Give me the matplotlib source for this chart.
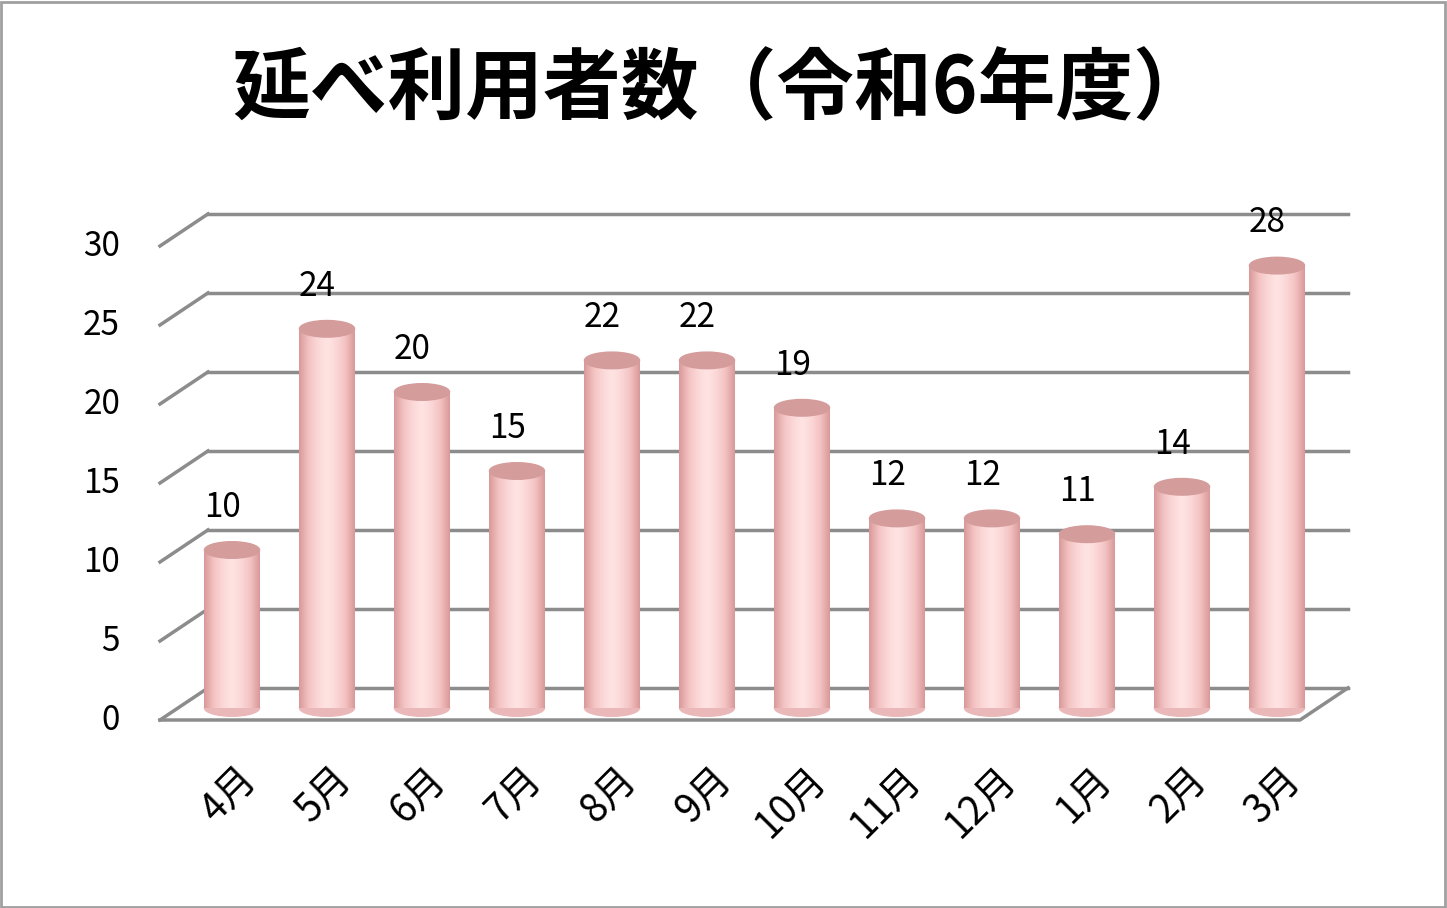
import matplotlib
matplotlib.use("Agg")
import matplotlib.pyplot as plt
import numpy as np
from matplotlib.patches import Ellipse, Rectangle

plt.rcParams["font.family"] = ["Noto Sans CJK JP", "DejaVu Sans"]

months = ["4月", "5月", "6月", "7月", "8月", "9月", "10月", "11月", "12月", "1月", "2月", "3月"]
values = [10, 24, 20, 15, 22, 22, 19, 12, 12, 11, 14, 28]
yticks = [0, 5, 10, 15, 20, 25, 30]
title = "延べ利用者数（令和6年度）"

W, H = 1447, 908
fig = plt.figure(figsize=(W / 100, H / 100), dpi=100)
ax = fig.add_axes([0, 0, 1, 1])
# pixel mapping: category i at x=232+95*i, value v at y=708-15.8*v
sx, x0 = 95.0, 232.0
sy, y0 = 15.8, 708.0
ax.set_xlim((0 - x0) / sx, (W - x0) / sx)
ax.set_ylim((y0 - H) / sy, y0 / sy)
ax.axis("off")

# frame
fig.patches.append(Rectangle((1, 1), W - 3, H - 3, transform=None, fill=False, ec="#a0a0a0", lw=2))

dx = 48 / sx          # depth offset in x
front = -0.76         # front plane value offset
back = 1.27           # back wall value offset
xl = (160 - x0) / sx
xr = (1300 - x0) / sx
gc = "#8c8c8c"
for v in yticks:
    ax.plot([xl, xl + dx], [v + front, v + back], color=gc, lw=2.5)
    ax.plot([xl + dx, xr + dx], [v + back, v + back], color=gc, lw=2.5)
    ax.text(xl - 0.42, v + front, str(v), ha="right", va="center", fontsize=24)
ax.plot([xl, xr, xr + dx], [front, front, back], color=gc, lw=2.5)

bw = 0.58
eh = 1.05
grad = np.abs(np.linspace(-1, 1, 200))
cmap = matplotlib.colors.LinearSegmentedColormap.from_list("p", ["#ffe2e2", "#f5c4c4", "#d89898"])
for i, v in enumerate(values):
    ax.imshow(grad[None, :] ** 1.5, extent=(i - bw / 2, i + bw / 2, 0, v), aspect="auto",
              cmap=cmap, vmin=0, vmax=1, zorder=3)
    ax.add_patch(Ellipse((i, 0), bw, eh, color="#eab8b8", zorder=2.9))
    ax.add_patch(Ellipse((i, v), bw, eh, color="#d59c9c", zorder=4))
    ax.text(i - 0.1, v + 2.7, str(v), ha="center", va="center", fontsize=24, zorder=5)
    ax.text(i + 0.05, -3.3, months[i], ha="right", va="top", rotation=45,
            rotation_mode="anchor", fontsize=28)

ax.text((722 - x0) / sx, (y0 - 90) / sy, title, ha="center", va="center",
        fontsize=56, fontweight="bold")

fig.savefig("out.png", dpi=100)
